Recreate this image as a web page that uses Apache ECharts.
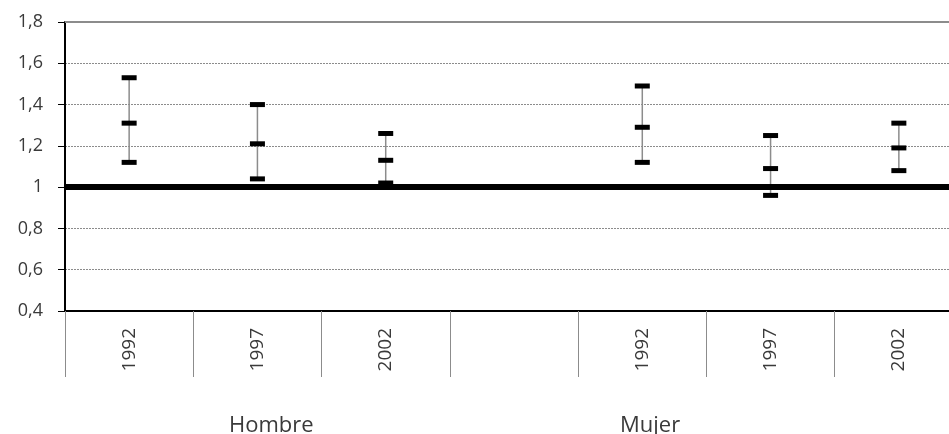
<!DOCTYPE html>
<html>
<head>
<meta charset="utf-8">
<script src="https://cdn.jsdelivr.net/npm/echarts@6/dist/echarts.min.js"></script>
<style>html,body{margin:0;padding:0;background:#fff;overflow:hidden;width:949px;height:434px}#c{width:964px;height:434px}</style>
</head>
<body>
<div id="c"></div>
<script>
var categories = ['1992', '1997', '2002', '', '1992', '1997', '2002'];
var groups = ['Hombre', 'Mujer'];
var lowValues  = [1.12, 1.04, 1.02, null, 1.12, 0.96, 1.08];
var midValues  = [1.31, 1.21, 1.13, null, 1.29, 1.09, 1.19];
var highValues = [1.53, 1.40, 1.26, null, 1.49, 1.25, 1.31];
var yTicks = [0.4, 0.6, 0.8, 1.0, 1.2, 1.4, 1.6, 1.8];
var referenceValue = 1;

var chart = echarts.init(document.getElementById('c'), null, {renderer: 'canvas'});
var FONT = '"Open Sans", sans-serif';
var TXT = '#3a3a3a';

var errData = [];
for (var i = 0; i < categories.length; i++) {
  if (lowValues[i] != null) errData.push([i, lowValues[i], midValues[i], highValues[i]]);
}

function renderErr(params, api) {
  var x = api.value(0);
  var pL = api.coord([x, api.value(1)]);
  var pM = api.coord([x, api.value(2)]);
  var pH = api.coord([x, api.value(3)]);
  var w = 15, h = 5;
  function cap(p) {
    return {type: 'rect', shape: {x: p[0] - w / 2, y: p[1] - h / 2, width: w, height: h},
      style: {fill: '#000'}};
  }
  return {type: 'group', children: [
    {type: 'line', shape: {x1: pL[0], y1: pL[1], x2: pH[0], y2: pH[1]},
      style: {stroke: '#8c8c8c', lineWidth: 1.5}},
    cap(pL), cap(pM), cap(pH)
  ]};
}

chart.setOption({
  animation: false,
  backgroundColor: '#fff',
  grid: {left: 65, right: 1, top: 22, bottom: 123, containLabel: false},
  xAxis: {
    type: 'category',
    data: categories,
    boundaryGap: true,
    axisLine: {show: true, lineStyle: {color: '#000', width: 2}},
    axisTick: {show: true, length: 66, interval: 0, lineStyle: {color: '#8c8c8c', width: 1}},
    axisLabel: {interval: 0, rotate: 90, margin: 17, fontSize: 19, fontFamily: FONT, color: TXT},
    splitLine: {show: false}
  },
  yAxis: {
    type: 'value',
    min: yTicks[0], max: yTicks[yTicks.length - 1], interval: 0.2,
    axisLine: {show: true, onZero: false, lineStyle: {color: '#000', width: 2}},
    axisTick: {show: true, length: 7, lineStyle: {color: '#000', width: 1}},
    axisLabel: {
      margin: 22, fontSize: 18, fontFamily: FONT, color: TXT,
      formatter: function (v) {
        var r = Math.round(v * 10) / 10;
        return (r === Math.round(r) ? String(Math.round(r)) : r.toFixed(1)).replace('.', ',');
      }
    },
    splitLine: {show: true, lineStyle: {color: '#8c8c8c', width: 1, type: [2, 1]}}
  },
  series: [
    {
      type: 'custom',
      renderItem: renderErr,
      data: errData,
      encode: {x: 0, y: [1, 2, 3]},
      z: 3
    },
    {
      type: 'line',
      data: [],
      z: 10,
      markLine: {
        silent: true,
        symbol: ['none', 'none'],
        label: {show: false},
        data: [
          {yAxis: referenceValue, lineStyle: {color: '#000', width: 6, type: 'solid'}},
          {yAxis: yTicks[yTicks.length - 1], lineStyle: {color: '#8c8c8c', width: 2, type: 'solid'}}
        ]
      }
    }
  ],
  graphic: [
    {type: 'text', x: 229, y: 437, style: {text: groups[0], fontSize: 22, fontFamily: FONT, fill: TXT, verticalAlign: 'bottom'}},
    {type: 'text', x: 620, y: 437, style: {text: groups[1], fontSize: 22, fontFamily: FONT, fill: TXT, verticalAlign: 'bottom'}}
  ]
});
</script>
</body>
</html>
